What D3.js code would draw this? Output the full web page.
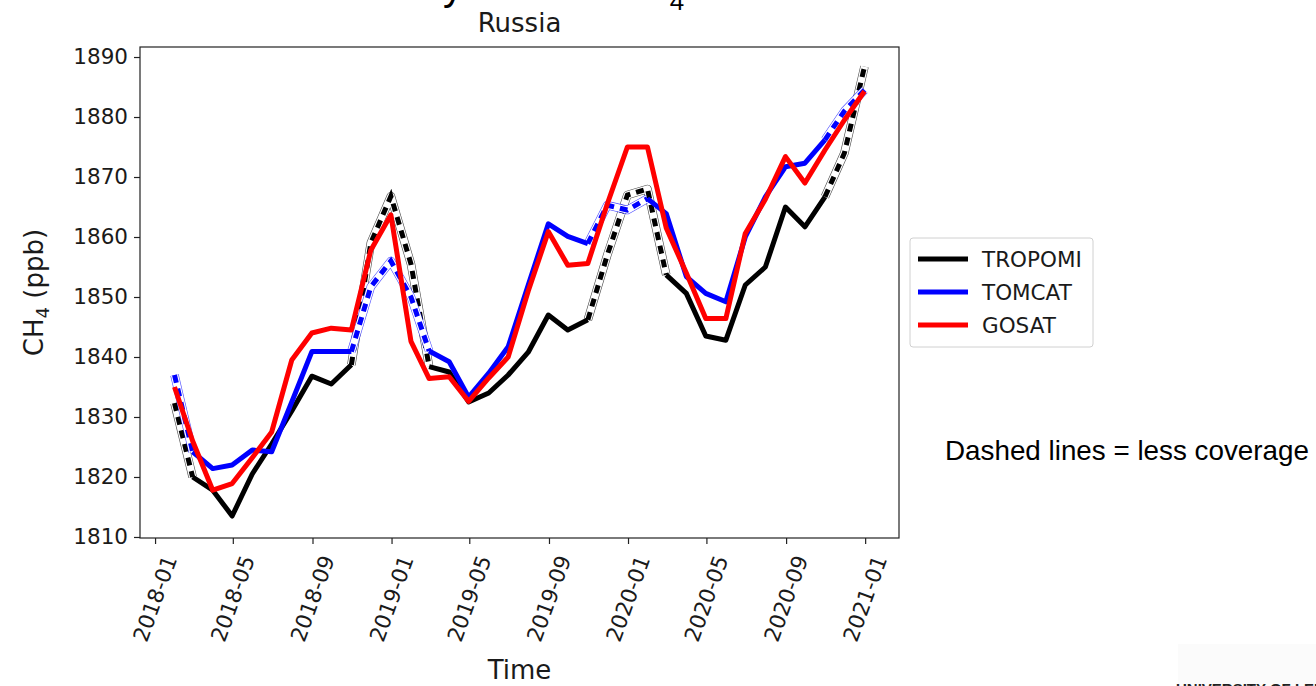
<!DOCTYPE html>
<html>
<head>
<meta charset="utf-8">
<script src="https://cdn.jsdelivr.net/npm/d3@7"></script>
<style>
  html, body { margin: 0; padding: 0; background: #fff; overflow: hidden; }
  svg text { font-family: "DejaVu Sans", sans-serif; fill: #1a1a1a; }
</style>
</head>
<body>
<svg id="chart" width="1316" height="686"></svg>
<script>
// Monthly means, dated at month end
const months = [
  "2018-01-31","2018-02-28","2018-03-31","2018-04-30","2018-05-31","2018-06-30",
  "2018-07-31","2018-08-31","2018-09-30","2018-10-31","2018-11-30","2018-12-31",
  "2019-01-31","2019-02-28","2019-03-31","2019-04-30","2019-05-31","2019-06-30",
  "2019-07-31","2019-08-31","2019-09-30","2019-10-31","2019-11-30","2019-12-31",
  "2020-01-31","2020-02-29","2020-03-31","2020-04-30","2020-05-31","2020-06-30",
  "2020-07-31","2020-08-31","2020-09-30","2020-10-31","2020-11-30","2020-12-31"
];

// CH4 (ppb)
const tropomi = [
  1832.3, 1820.0, 1817.8, 1813.5, 1820.5, 1825.5, 1831.0, 1836.8, 1835.5, 1838.7, 1859.0, 1866.8,
  1855.5, 1838.4, 1837.5, 1832.5, 1834.0, 1837.0, 1840.8, 1847.0, 1844.5, 1846.2, 1857.0, 1867.0,
  1868.0, 1853.7, 1850.6, 1843.5, 1842.8, 1852.0, 1855.0, 1865.0, 1861.7, 1866.7, 1874.0, 1888.4
];
const tomcat = [
  1837.0, 1824.2, 1821.4, 1822.0, 1824.5, 1824.2, 1832.5, 1840.9, 1840.9, 1840.9, 1851.7, 1856.0,
  1850.0, 1841.0, 1839.2, 1833.3, 1837.3, 1841.7, 1852.0, 1862.2, 1860.1, 1858.9, 1865.3, 1864.5,
  1866.4, 1863.9, 1853.4, 1850.6, 1849.2, 1860.0, 1866.7, 1871.7, 1872.3, 1876.2, 1881.0, 1884.5
];
const gosat = [
  1835.0, 1826.0, 1817.8, 1818.9, 1823.2, 1827.5, 1839.5, 1844.0, 1844.8, 1844.5, 1857.8, 1863.7,
  1842.6, 1836.4, 1836.7, 1832.6, 1836.5, 1840.0, 1851.0, 1860.9, 1855.3, 1855.6, 1865.5, 1875.0,
  1875.0, 1861.5, 1854.0, 1846.4, 1846.4, 1860.6, 1866.3, 1873.4, 1869.0, 1874.5, 1879.5, 1884.3
];

// 1 = good coverage (solid), 0 = less coverage (dashed)
const tropomiCoverage = [
  0,1,1,1,1,1,1,1,1,1,0,0, 0,1,1,1,1,1,1,1,1,1,0,0, 0,1,1,1,1,1,1,1,1,1,0,0
];
const tomcatCoverage = [
  0,1,1,1,1,1,1,1,1,1,0,0, 0,1,1,1,1,1,1,1,1,1,0,0, 1,1,1,1,1,1,1,1,1,1,0,0
];
const gosatCoverage = [
  1,1,1,1,1,1,1,1,1,1,1,1, 1,1,1,1,1,1,1,1,1,1,1,1, 1,1,1,1,1,1,1,1,1,1,1,1
];

const seriesNames = ["TROPOMI", "TOMCAT", "GOSAT"];
const seriesColors = ["#000000", "#0000ff", "#ff0000"];
const yTicks = [1810, 1820, 1830, 1840, 1850, 1860, 1870, 1880, 1890];

const parse = d3.utcParse("%Y-%m-%d");
const dates = months.map(parse);
const series = [
  { name: seriesNames[0], color: seriesColors[0], values: tropomi, cov: tropomiCoverage },
  { name: seriesNames[1], color: seriesColors[1], values: tomcat,  cov: tomcatCoverage },
  { name: seriesNames[2], color: seriesColors[2], values: gosat,   cov: gosatCoverage }
];

const svg = d3.select("#chart");
const plot = { left: 140, right: 899, top: 47, bottom: 538 };
const tickFont = 21.5, labelFont = 26, lineW = 5;

// time axis with 5% margins either side of the data
const t0 = dates[0].getTime(), t1 = dates[dates.length - 1].getTime();
const pad = (t1 - t0) * 0.05;
const x = d3.scaleUtc()
  .domain([new Date(t0 - pad), new Date(t1 + pad)])
  .range([plot.left, plot.right]);
const y = d3.scaleLinear()
  .domain([1809.83, 1891.67])
  .range([plot.bottom, plot.top]);

// slide heading (only its lower edge falls inside the frame)
const heading = svg.append("text")
  .attr("x", 323).attr("y", 0)
  .style("font-family", "'Liberation Sans', sans-serif")
  .style("font-size", "40px")
  .style("fill", "#000");
heading.append("tspan").text("Monthly mean XCH");
heading.append("tspan").attr("dy", 10).style("font-size", "26px").text("4");

// panel title
svg.append("text")
  .attr("x", (plot.left + plot.right) / 2).attr("y", 32)
  .attr("text-anchor", "middle")
  .style("font-size", labelFont + "px")
  .text("Russia");

const g = svg.append("g");

const lineGen = d3.line()
  .x(d => x(d.date))
  .y(d => y(d.value));

// group consecutive segments into polylines; a segment is solid only when both ends are covered
function runs(values, cov, dashed) {
  const out = [];
  let cur = null;
  for (let i = 0; i < values.length - 1; i++) {
    const solid = Boolean(cov[i] && cov[i + 1]);
    if (solid === dashed) { cur = null; continue; }
    if (!cur) { cur = [{ date: dates[i], value: values[i] }]; out.push(cur); }
    cur.push({ date: dates[i + 1], value: values[i + 1] });
  }
  return out;
}

series.forEach(s => {
  const sg = g.append("g").attr("class", "series");
  runs(s.values, s.cov, true).forEach(r => {
    const d = lineGen(r);
    sg.append("path").attr("d", d)
      .attr("fill", "none").attr("stroke", s.color).attr("stroke-opacity", 0.7)
      .attr("stroke-width", 8.5).attr("stroke-linejoin", "round");
    sg.append("path").attr("d", d)
      .attr("fill", "none").attr("stroke", "#fff")
      .attr("stroke-width", 7.3).attr("stroke-linejoin", "round");
    sg.append("path").attr("d", d)
      .attr("fill", "none").attr("stroke", s.color)
      .attr("stroke-width", lineW).attr("stroke-dasharray", "8,6");
  });
  runs(s.values, s.cov, false).forEach(r => {
    sg.append("path").attr("d", lineGen(r))
      .attr("fill", "none").attr("stroke", s.color)
      .attr("stroke-width", lineW).attr("stroke-linejoin", "round");
  });
});

// frame
svg.append("rect")
  .attr("x", plot.left).attr("y", plot.top)
  .attr("width", plot.right - plot.left).attr("height", plot.bottom - plot.top)
  .attr("fill", "none").attr("stroke", "#222").attr("stroke-width", 1.2);

// y axis
const yAxis = svg.append("g")
  .attr("transform", `translate(${plot.left},0)`)
  .call(d3.axisLeft(y).tickValues(yTicks).tickSize(6).tickPadding(6).tickFormat(d3.format("d")));
yAxis.select(".domain").remove();
yAxis.selectAll("line").attr("stroke", "#222").attr("stroke-width", 1.2);
yAxis.selectAll("text")
  .style("font-size", tickFont + "px")
  .style("font-family", "'DejaVu Sans', sans-serif")
  .attr("fill", "#1a1a1a");

// x axis
const xTicks = d3.utcMonth.range(parse("2018-01-01"), parse("2021-01-02"), 4);
const xAxis = svg.append("g")
  .attr("transform", `translate(0,${plot.bottom})`)
  .call(d3.axisBottom(x).tickValues(xTicks).tickSize(6).tickFormat(() => ""));
xAxis.select(".domain").remove();
xAxis.selectAll("line").attr("stroke", "#222").attr("stroke-width", 1.2);

// rotated tick labels, bounding box centred under each tick
const fmt = d3.utcFormat("%Y-%m");
const ang = 70 * Math.PI / 180;
svg.append("g").selectAll("text")
  .data(xTicks)
  .join("text")
  .attr("text-anchor", "middle")
  .attr("dy", "0.346em")
  .style("font-size", tickFont + "px")
  .text(d => fmt(d))
  .each(function (d) {
    const L = this.getComputedTextLength();
    const h = tickFont * 1.164;
    const H = L * Math.sin(ang) + h * Math.cos(ang);
    d3.select(this).attr("transform",
      `translate(${x(d)},${plot.bottom + 14 + H / 2}) rotate(-70)`);
  });

// axis labels
svg.append("text")
  .attr("x", (plot.left + plot.right) / 2).attr("y", 679)
  .attr("text-anchor", "middle")
  .style("font-size", labelFont + "px")
  .text("Time");

const yl = svg.append("text")
  .attr("transform", `translate(43,${(plot.top + plot.bottom) / 2}) rotate(-90)`)
  .attr("text-anchor", "middle")
  .style("font-size", labelFont + "px");
yl.append("tspan").text("CH");
yl.append("tspan").attr("dy", 6).style("font-size", (labelFont * 0.7) + "px").text("4");
yl.append("tspan").attr("dy", -6).text(" (ppb)");

// legend
const lg = svg.append("g").attr("transform", "translate(910,238)");
lg.append("rect").attr("width", 183).attr("height", 109).attr("rx", 3)
  .attr("fill", "#fff").attr("stroke", "#d0d0d0").attr("stroke-width", 1);
series.forEach((s, i) => {
  const yy = 21 + i * 33;
  lg.append("line").attr("x1", 8).attr("x2", 58).attr("y1", yy).attr("y2", yy)
    .attr("stroke", s.color).attr("stroke-width", lineW);
  lg.append("text").attr("x", 72).attr("y", yy).attr("dy", "0.36em")
    .style("font-size", tickFont + "px").text(s.name);
});

// note
svg.append("text")
  .attr("x", 945).attr("y", 460)
  .style("font-family", "'Liberation Sans', sans-serif")
  .style("font-size", "27.8px").style("fill", "#000")
  .text("Dashed lines = less coverage");

// footer logo text (cut at the bottom edge)
svg.append("rect").attr("x", 1178).attr("y", 644).attr("width", 138).attr("height", 42).attr("fill", "#fbfbfb");
svg.append("text")
  .attr("x", 1176).attr("y", 694)
  .style("font-family", "'Liberation Sans', sans-serif")
  .style("font-weight", "bold").style("font-size", "15px").style("fill", "#222")
  .text("UNIVERSITY OF LEICESTER");
</script>
</body>
</html>
